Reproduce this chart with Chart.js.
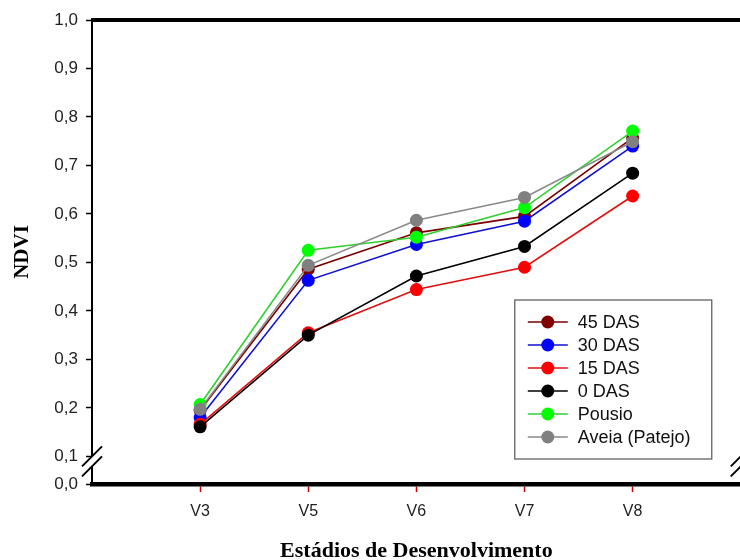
<!DOCTYPE html>
<html>
<head>
<meta charset="utf-8">
<script src="https://cdn.jsdelivr.net/npm/chart.js@4.4.0/dist/chart.umd.min.js"></script>
<style>
  html, body { margin: 0; padding: 0; background: #fff; overflow: hidden; width: 740px; height: 560px; }
</style>
</head>
<body>
<!-- canvas a bit wider than the window: right frame edge sits just off the picture -->
<canvas id="ndvi" width="753" height="560"></canvas>
<script>
// stages (x categories)
const stages = ['V3', 'V5', 'V6', 'V7', 'V8'];

// NDVI per treatment
const seriesNames = ['45 DAS', '30 DAS', '15 DAS', '0 DAS', 'Pousio', 'Aveia (Patejo)'];
const das45  = [0.195, 0.486, 0.561, 0.595, 0.757];
const das30  = [0.180, 0.463, 0.537, 0.585, 0.740];
const das15  = [0.166, 0.355, 0.444, 0.490, 0.637];
const das0   = [0.161, 0.350, 0.472, 0.533, 0.684];
const pousio = [0.207, 0.525, 0.552, 0.613, 0.771];
const aveia  = [0.197, 0.494, 0.587, 0.634, 0.749];

// y axis: broken between 0,0 and 0,1
const yTickValues = [0.043, 0.1, 0.2, 0.3, 0.4, 0.5, 0.6, 0.7, 0.8, 0.9, 1.0];
const yTickLabels = ['0,0', '0,1', '0,2', '0,3', '0,4', '0,5', '0,6', '0,7', '0,8', '0,9', '1,0'];

const markerColors = ['#800000', '#0000ff', '#ff0000', '#000000', '#00ff00', '#808080'];
const lineColors   = ['#7a0000', '#1010d0', '#e01010', '#000000', '#30d030', '#8a8a8a'];

const allSeries = [das45, das30, das15, das0, pousio, aveia];
// blank slot at each end so V3..V8 sit one step in from the frame
const xLabels = [''].concat(stages, [' ']);

const datasets = allSeries.map((vals, i) => ({
  label: seriesNames[i],
  data: [null].concat(vals, [null]),
  borderColor: lineColors[i],
  backgroundColor: markerColors[i],
  pointBackgroundColor: markerColors[i],
  pointBorderColor: markerColors[i],
  borderWidth: 1.6,
  pointRadius: 6.5,
  pointBorderWidth: 0,
  order: allSeries.length - i   // later series drawn on top
}));

const frameAndLegend = {
  id: 'frameAndLegend',
  afterDatasetsDraw(chart) {
    const ctx = chart.ctx;
    const {left, right, top, bottom} = chart.chartArea;
    const yScale = chart.scales.y;
    ctx.save();

    // thick top frame
    ctx.strokeStyle = '#000';
    ctx.lineWidth = 4;
    ctx.beginPath();
    ctx.moveTo(left - 1, top);
    ctx.lineTo(right, top);
    ctx.stroke();

    // axis break marks
    const by = yScale.getPixelForValue(yTickValues[1]) + 5;
    [left, right].forEach(bx => {
      ctx.fillStyle = '#fff';
      ctx.beginPath();
      ctx.moveTo(bx - 10, by + 5);
      ctx.lineTo(bx + 10, by - 15);
      ctx.lineTo(bx + 10, by - 5);
      ctx.lineTo(bx - 10, by + 15);
      ctx.closePath();
      ctx.fill();
      ctx.strokeStyle = '#000';
      ctx.lineWidth = 2;
      ctx.beginPath();
      ctx.moveTo(bx - 10, by + 5);
      ctx.lineTo(bx + 10, by - 15);
      ctx.moveTo(bx - 10, by + 15);
      ctx.lineTo(bx + 10, by - 5);
      ctx.stroke();
    });

    // legend box
    const bx0 = right - 226, bx1 = right - 29;
    const by1 = bottom - 25, by0 = by1 - 159;
    ctx.fillStyle = '#fff';
    ctx.fillRect(bx0, by0, bx1 - bx0, by1 - by0);
    ctx.strokeStyle = '#555';
    ctx.lineWidth = 1.2;
    ctx.strokeRect(bx0, by0, bx1 - bx0, by1 - by0);

    ctx.font = '18px "Liberation Sans", Arial, sans-serif';
    ctx.textBaseline = 'middle';
    chart.data.datasets.forEach((ds, i) => {
      const ry = by0 + 22 + i * 23;
      ctx.strokeStyle = ds.borderColor;
      ctx.lineWidth = 1.6;
      ctx.beginPath();
      ctx.moveTo(bx0 + 13, ry);
      ctx.lineTo(bx0 + 53, ry);
      ctx.stroke();
      ctx.fillStyle = ds.pointBackgroundColor;
      ctx.beginPath();
      ctx.arc(bx0 + 33, ry, 6.5, 0, Math.PI * 2);
      ctx.fill();
      ctx.fillStyle = '#111';
      ctx.fillText(ds.label, bx0 + 63, ry + 1);
    });
    ctx.restore();
  }
};

new Chart(document.getElementById('ndvi'), {
  type: 'line',
  data: { labels: xLabels, datasets: datasets },
  options: {
    responsive: false,
    animation: false,
    devicePixelRatio: 1,
    layout: { padding: { top: 20, right: 0, bottom: 0, left: 0 } },
    plugins: {
      legend: { display: false },
      tooltip: { enabled: false }
    },
    scales: {
      x: {
        type: 'category',
        offset: false,
        border: { color: '#000', width: 4.5 },
        grid: {
          drawOnChartArea: false,
          tickLength: 8,
          tickWidth: 1.5,
          tickColor: c => (c.index > 0 && c.index < xLabels.length - 1) ? '#cc0000' : 'rgba(0,0,0,0)'
        },
        ticks: {
          autoSkip: false,
          maxRotation: 0,
          padding: 10,
          color: '#222',
          font: { family: '"Liberation Sans", Arial, sans-serif', size: 16 }
        },
        title: {
          display: true,
          text: 'Estádios de Desenvolvimento',
          color: '#000',
          padding: { top: 0, bottom: -5 },
          font: { family: '"Liberation Serif", "Times New Roman", serif', size: 22, weight: 'bold' }
        },
        afterFit: s => { s.height = 76; }
      },
      y: {
        min: yTickValues[0],
        max: yTickValues[yTickValues.length - 1],
        afterBuildTicks: s => { s.ticks = yTickValues.map(v => ({ value: v })); },
        border: { color: '#000', width: 2 },
        grid: { drawOnChartArea: false, tickLength: 6, tickWidth: 1.5, tickColor: '#000' },
        ticks: {
          padding: 8,
          color: '#222',
          font: { family: '"Liberation Sans", Arial, sans-serif', size: 17 },
          callback: (v, i) => yTickLabels[i]
        },
        title: {
          display: true,
          text: 'NDVI',
          color: '#000',
          padding: { top: 10, bottom: 0 },
          font: { family: '"Liberation Serif", "Times New Roman", serif', size: 21, weight: 'bold' }
        },
        afterFit: s => { s.width = 92; }
      }
    }
  },
  plugins: [frameAndLegend]
});
</script>
</body>
</html>
